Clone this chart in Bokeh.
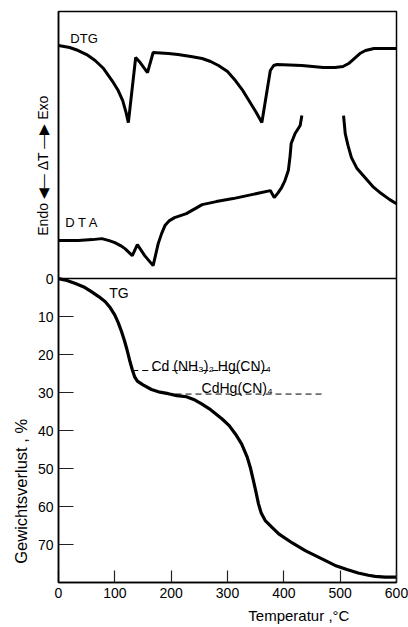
import math
from bokeh.plotting import figure
from bokeh.models import Range1d, FixedTicker, Span, Label, LinearAxis
from bokeh.embed import file_html
from bokeh.resources import INLINE

FONT = "Liberation Sans"

# ---- data ----
# DTG curve (top panel, arbitrary units)
dtg_T = [0, 20, 35, 50, 65, 80, 95, 106, 114, 120, 124, 137, 145, 158, 168, 195, 212, 235, 255, 270, 284,
         300, 314, 326, 338, 350, 361, 376, 382, 388, 432, 470, 491, 505, 515, 525, 535, 545, 560, 600]
dtg_v = [233, 231, 228, 224, 218, 210, 198, 188, 178, 166, 156, 221, 216, 206, 226, 225, 224, 222, 220, 217, 213,
         207, 198, 189, 178, 167, 156, 208, 213, 214, 213, 211, 211, 212, 215, 220, 225, 228, 230, 230]

# DTA curve (top panel, arbitrary units) - off scale between ~432 and ~506 °C
dta_T = [0, 35, 60, 77, 90, 100, 110, 118, 131, 140, 153, 168, 177, 183, 189, 197, 206, 227, 255, 280, 310,
         343, 376, 383, 390, 396, 402, 408, 411, 413, 420, 429, 432, float("nan"),
         506, 509, 514, 520, 530, 544, 558, 573, 588, 600]
dta_v = [38, 38, 39, 40, 38, 36, 33, 30, 23, 34, 23, 13, 35, 45, 53, 58, 61, 65, 74, 77, 80,
         84, 88, 81, 86, 91, 98, 108, 122, 135, 145, 153, 163, float("nan"),
         163, 145, 133, 121, 110, 101, 92, 85, 79, 75]

# TG curve (weight loss, %)
tg_T = [0, 15, 30, 45, 59, 72, 83, 92, 100, 106, 112, 117, 121, 127, 131, 135, 140, 150, 165, 180, 195, 210,
        227, 240, 254, 270, 290, 303, 314, 325, 335, 341, 346, 351, 355, 360, 367, 380, 391, 415, 438, 465,
        491, 512, 532, 550, 562, 580, 600]
tg_loss = [0, 0.5, 1.3, 2.2, 3.5, 4.8, 6.1, 7.7, 9.6, 11.6, 14, 16.3, 18.4, 21.9, 24, 25.8, 27, 28, 29.2, 29.9,
           30.3, 30.8, 31.1, 31.8, 33.0, 34.5, 36.9, 38.7, 40.9, 43.5, 47, 50, 53.2, 56.5, 59.3, 61.8, 63.7,
           65.6, 67.2, 69.6, 71.6, 73.6, 75.5, 76.6, 77.5, 78.1, 78.4, 78.6, 78.6]

# theoretical weight-loss levels
level_names = ["Cd (NH₃)₂ Hg(CN)₄", "CdHg(CN)₄"]
level_loss = [24.2, 30.4]
level_T0 = [131, 190]
level_T1 = [379, 467]

x_ticks = [0, 100, 200, 300, 400, 500, 600]
y_ticks = [0, 10, 20, 30, 40, 50, 60, 70]

# ---- figure ----
p = figure(width=408, height=627, output_backend="svg", toolbar_location=None,
           x_range=Range1d(0, 600), y_range=Range1d(80, -70.3),
           min_border_left=56, min_border_right=12, min_border_top=11, min_border_bottom=45,
           x_axis_type=None, y_axis_type=None)
p.extra_y_ranges = {"dt": Range1d(-303.7, 267)}
p.xgrid.visible = False
p.ygrid.visible = False
p.outline_line_color = "black"
p.outline_line_width = 1.5
p.background_fill_color = "white"
p.border_fill_color = "white"

xa = LinearAxis(ticker=FixedTicker(ticks=x_ticks))
ya = LinearAxis(ticker=FixedTicker(ticks=y_ticks))
for ax, tin in ((xa, 12), (ya, 15)):
    ax.major_tick_in = tin
    ax.major_tick_out = 0
    ax.minor_tick_line_color = None
    ax.major_tick_line_color = "#222222"
    ax.major_tick_line_width = 1.2
    ax.axis_line_color = "black"
    ax.axis_line_width = 1.5
    ax.major_label_text_font = FONT
    ax.major_label_text_font_size = "14px"
    ax.major_label_text_color = "black"
    ax.major_label_standoff = 5
p.add_layout(xa, "below")
p.add_layout(ya, "left")

# panel separator
p.add_layout(Span(location=0, dimension="width", line_color="black", line_width=1.5))

# curves
p.line(dtg_T, dtg_v, y_range_name="dt", line_color="black", line_width=3)
p.line(dta_T, dta_v, y_range_name="dt", line_color="black", line_width=3)
p.line(tg_T, tg_loss, line_color="black", line_width=3.2)

# dashed theoretical levels
for t0, t1, lv in zip(level_T0, level_T1, level_loss):
    p.line([t0, t1], [lv, lv], line_color="black", line_width=1, line_dash="6 4")

def lab(x, y, text, size="14px", align="left", baseline="middle", angle=0, rng="default", place="center"):
    p.add_layout(Label(x=x, y=y, text=text, y_range_name=rng, text_font=FONT,
                       text_font_size=size, text_align=align, text_baseline=baseline,
                       angle=angle, text_color="black"), place)

lab(165, 22.9, level_names[0], baseline="alphabetic")
lab(254, 28.8, level_names[1], baseline="alphabetic")
lab(90, 3.7, "TG")
lab(21, 240, "DTG", size="13px", rng="dt")
lab(12, 56, "D T A", size="13px", rng="dt")
lab(337, 88.6, "Temperatur ,°C", size="15px", place="below")
lab(-67, 56.0, "Gewichtsverlust , %", size="16.5px", align="center", angle=math.pi / 2, place="left")
lab(-28, 113, "Endo ◀— ΔT —▶ Exo", align="center", angle=math.pi / 2, rng="dt", place="left")

open("out.html", "w").write(file_html(p, INLINE))
